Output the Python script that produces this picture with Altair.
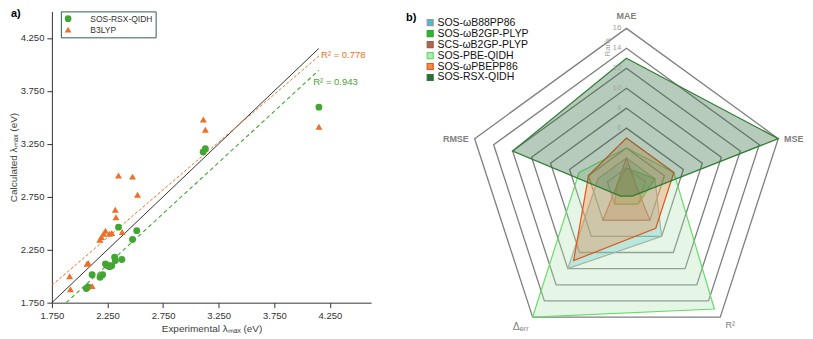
import altair as alt
import pandas as pd

FONT = "Liberation Sans"

# ---------------- Panel a data ----------------
rsx_exp = [2.349, 2.513, 2.475, 2.314, 2.320, 2.379, 2.232, 2.244, 2.267, 2.288,
           2.112, 2.183, 2.206, 2.060, 2.075, 3.110, 3.130, 4.151]
rsx_calc = [2.463, 2.430, 2.346, 2.180, 2.148, 2.157, 2.115, 2.102, 2.090, 2.099,
            2.013, 1.990, 2.013, 1.883, 1.898, 3.173, 3.204, 3.596]
b3_exp = [2.232, 2.215, 2.195, 2.180, 2.267, 2.288, 2.382, 2.320, 2.326, 2.349,
          2.475, 2.520, 2.066, 2.077, 1.910, 1.917, 2.112, 3.112, 3.130, 4.151]
b3_calc = [2.430, 2.400, 2.370, 2.343, 2.400, 2.408, 2.417, 2.627, 2.556, 2.950,
           2.940, 2.770, 2.117, 2.124, 2.000, 1.877, 1.907, 3.480, 3.383, 3.410]
methods = ["SOS-RSX-QIDH", "B3LYP"]
method_colors = ["#43A633", "#EE6F26"]

ideal_x = [1.75, 4.15]
ideal_y = [1.75, 4.15]
b3_fit_x = [1.75, 4.15]
b3_fit_y = [1.914, 4.078]
rsx_fit_x = [1.879, 4.15]
rsx_fit_y = [1.75, 3.944]
r2_labels = ["R² = 0.778", "R² = 0.943"]
r2_x = [4.17, 4.10]
r2_y = [4.09, 3.83]

tick_vals = [1.75, 2.25, 2.75, 3.25, 3.75, 4.25]

# ---------------- Panel b data ----------------
radar_axes = ["MAE", "MSE", "R²", "Δₑᵣᵣ", "RMSE"]
series_names = ["SOS-ωB88PP86", "SOS-ωB2GP-PLYP", "SCS-ωB2GP-PLYP",
                "SOS-PBE-QIDH", "SOS-ωPBEPP86", "SOS-RSX-QIDH"]
rank_wB88PP86 = [3, 3, 6, 10, 3]
rank_wB2GP = [2, 3, 2, 2, 1]
rank_SCS_wB2GP = [3, 1, 4, 4, 1]
rank_PBE_QIDH = [4, 5, 15, 16, 5]
rank_wPBEPP86 = [5, 5, 5, 9, 4]
rank_RSX_QIDH = [13, 16, 1, 1, 12]
fill_colors = ["#40BFD8", "#2EB52E", "#A86858", "#B7E6B7", "#F28A45", "#2F6B3C"]
stroke_colors = ["#9A9A9A", "#33A833", "#A0604F", "#66DD66", "#E0561B", "#2E7D32"]
ring_values = [2, 4, 6, 8, 10, 12, 14, 16]
ring_labels = [str(v) for v in ring_values]

# ---------------- Panel a ----------------
pts = pd.DataFrame({
    "exp": rsx_exp + b3_exp,
    "calc": rsx_calc + b3_calc,
    "method": [methods[0]] * len(rsx_exp) + [methods[1]] * len(b3_exp),
})
xa = alt.Scale(domain=[1.75, 4.62], nice=False, zero=False)
ya = alt.Scale(domain=[1.75, 4.5], nice=False, zero=False)

axis_common = dict(values=tick_vals, format=".3f", grid=False, domainColor="#333333",
                   tickColor="#333333", labelColor="#333333", labelFont=FONT,
                   labelFontSize=9.5, titleFont=FONT, titleFontSize=10,
                   titleFontWeight="normal", titleColor="#404040", tickSize=5,
                   labelFlush=False, labelOverlap=False)

xaxis = alt.Axis(title="Experimental λₘₐₓ (eV)", labelPadding=3, titlePadding=3, **axis_common)
yaxis = alt.Axis(title="Calculated λₘₐₓ (eV)", labelPadding=3, titlePadding=2, **axis_common)

def seg(xs, ys):
    return pd.DataFrame({"exp": xs, "calc": ys})

ideal = alt.Chart(seg(ideal_x, ideal_y)).mark_line(color="#333333", strokeWidth=1).encode(
    x=alt.X("exp:Q", scale=xa, axis=xaxis), y=alt.Y("calc:Q", scale=ya, axis=yaxis))
b3fit = alt.Chart(seg(b3_fit_x, b3_fit_y)).mark_line(
    color=method_colors[1], strokeWidth=1, strokeDash=[3, 2]).encode(
    x=alt.X("exp:Q", scale=xa), y=alt.Y("calc:Q", scale=ya))
rsxfit = alt.Chart(seg(rsx_fit_x, rsx_fit_y)).mark_line(
    color=method_colors[0], strokeWidth=1.1, strokeDash=[4, 3]).encode(
    x=alt.X("exp:Q", scale=xa), y=alt.Y("calc:Q", scale=ya))

legend_a = alt.Legend(title=None, orient="none", legendX=9, legendY=0,
                      strokeColor="#2D5F50", fillColor="white", padding=3,
                      labelFont=FONT, labelFontSize=8.5, labelColor="#333333",
                      labelOffset=18, rowPadding=2, symbolStrokeWidth=0, symbolSize=45)
points = alt.Chart(pts).mark_point(filled=True, size=48, opacity=1).encode(
    x=alt.X("exp:Q", scale=xa),
    y=alt.Y("calc:Q", scale=ya),
    color=alt.Color("method:N", scale=alt.Scale(domain=methods, range=method_colors),
                    legend=legend_a),
    shape=alt.Shape("method:N", scale=alt.Scale(domain=methods, range=["circle", "triangle-up"]),
                    legend=legend_a),
)
r2df = pd.DataFrame({"exp": r2_x, "calc": r2_y, "lab": r2_labels, "method": methods[::-1]})
r2text = alt.Chart(r2df).mark_text(align="left", baseline="middle", font=FONT, fontSize=9.5).encode(
    x=alt.X("exp:Q", scale=xa), y=alt.Y("calc:Q", scale=ya), text="lab:N",
    color=alt.Color("method:N", scale=alt.Scale(domain=methods, range=method_colors), legend=None))

panel_tags = ["a)", "b)"]
tag_a = alt.Chart(pd.DataFrame({"t": [panel_tags[0]]})).mark_text(
    align="left", baseline="middle", font=FONT, fontSize=11, fontWeight="bold", color="#000000").encode(
    x=alt.value(-41), y=alt.value(3), text="t:N")

panel_a = alt.layer(ideal, b3fit, rsxfit, points, r2text, tag_a).properties(width=320, height=292)

# ---------------- Panel b ----------------
rows = []
for name, ranks in zip(series_names, [rank_wB88PP86, rank_wB2GP, rank_SCS_wB2GP,
                                      rank_PBE_QIDH, rank_wPBEPP86, rank_RSX_QIDH]):
    for k, r in enumerate(ranks):
        rows.append({"series": name, "k": k, "r": r, "ax": radar_axes[k]})
radar_df = pd.DataFrame(rows)

ring_rows = []
for rv in ring_values:
    for k in range(5):
        ring_rows.append({"ring": rv, "k": k, "r": rv})
ring_df = pd.DataFrame(ring_rows)

xb = alt.Scale(domain=[-22.6, 17.9], nice=False, zero=False)
yb = alt.Scale(domain=[-14.6, 17.7], nice=False, zero=False)

polar = dict(ang="PI/2 - datum.k*2*PI/5", px="datum.r*cos(datum.ang)", py="datum.r*sin(datum.ang)")

rings = alt.Chart(ring_df).transform_calculate(**polar).mark_line(
    interpolate="linear-closed", color="#7F7F7F", strokeWidth=1.3).encode(
    x=alt.X("px:Q", scale=xb, axis=None), y=alt.Y("py:Q", scale=yb, axis=None),
    detail="ring:N", order="k:Q")

legend_b = alt.Legend(title=None, orient="none", legendX=24, legendY=6, symbolType="square",
                      symbolSize=36, symbolStrokeWidth=1.2, labelFont=FONT, labelFontSize=10.5,
                      labelColor="#111111", labelOffset=2, rowPadding=-1)
polys = alt.Chart(radar_df).transform_calculate(**polar).mark_line(
    interpolate="linear-closed", strokeWidth=1.2, fillOpacity=0.35).encode(
    x=alt.X("px:Q", scale=xb), y=alt.Y("py:Q", scale=yb),
    order="k:Q",
    fill=alt.Fill("series:N", scale=alt.Scale(domain=series_names, range=fill_colors), legend=legend_b),
    stroke=alt.Stroke("series:N", scale=alt.Scale(domain=series_names, range=stroke_colors), legend=legend_b),
)

ringlab_df = pd.DataFrame({"r": ring_values, "lab": ring_labels})
ringlabs = alt.Chart(ringlab_df).transform_calculate(z="-0.5").mark_text(
    align="right", baseline="middle", font=FONT, fontSize=8, color="#A6A6A6").encode(
    x=alt.X("z:Q", scale=xb), y=alt.Y("r:Q", scale=yb), text="lab:N")

rank_df = pd.DataFrame({"t": ["Rank"], "x": [-1.8], "y": [14.1]})
ranktxt = alt.Chart(rank_df).mark_text(angle=270, font=FONT, fontSize=8, color="#A6A6A6",
                                       baseline="middle", align="center").encode(
    x=alt.X("x:Q", scale=xb), y=alt.Y("y:Q", scale=yb), text="t:N")

axlab_x = [0, 15.8, 10.4, -10.6, -15.8]
axlab_y = [17.2, 4.94, -13.7, -13.9, 4.94]
axlab_align = ["center", "left", "center", "center", "right"]
axlab_weight = ["bold", "bold", "normal", "normal", "bold"]
axlab_df = pd.DataFrame({"t": radar_axes, "x": axlab_x, "y": axlab_y})

lab_layers = []
for i in range(5):
    sub = axlab_df.iloc[[i]]
    fs = 10.5 if radar_axes[i].startswith("Δ") else 9
    lab_layers.append(alt.Chart(sub).mark_text(
        font=FONT, color="#7F7F7F", baseline="middle", align=axlab_align[i],
        fontWeight=axlab_weight[i], fontSize=fs).encode(
        x=alt.X("x:Q", scale=xb), y=alt.Y("y:Q", scale=yb), text="t:N"))

tag_b = alt.Chart(pd.DataFrame({"t": [panel_tags[1]]})).mark_text(
    align="left", baseline="middle", font=FONT, fontSize=11, fontWeight="bold", color="#000000").encode(
    x=alt.value(5), y=alt.value(7), text="t:N")

panel_b = alt.layer(rings, polys, ringlabs, ranktxt, *lab_layers, tag_b).properties(width=405, height=323)

chart = alt.hconcat(panel_a, panel_b, spacing=30).resolve_scale(
    x="independent", y="independent", color="independent", shape="independent",
    fill="independent", stroke="independent"
).properties(padding=0, background="white").configure_view(stroke=None, strokeWidth=0)

chart.save("out.html", embed_options={"renderer": "svg", "actions": False})
